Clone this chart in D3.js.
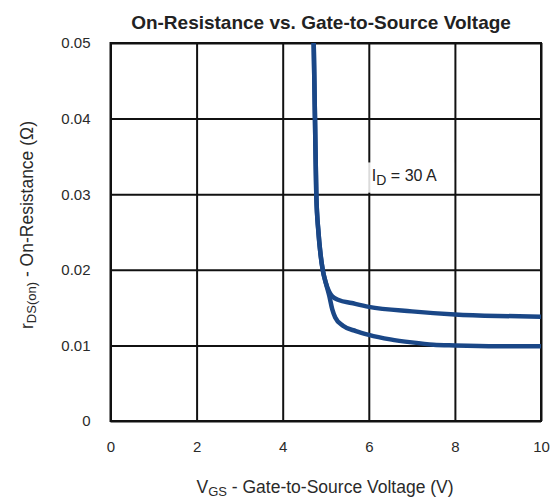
<!DOCTYPE html>
<html>
<head>
<meta charset="utf-8">
<script src="https://cdn.jsdelivr.net/npm/d3@7"></script>
<style>
	body { margin: 0; background: #fff; }
	svg text { font-family: "Liberation Sans", Arial, sans-serif; }
	.grid line { stroke: #111; stroke-width: 2; }
	.grid path { display: none; }
	.tick-labels path, .tick-labels line { display: none; }
	.tick-labels text { font-size: 15px; fill: #2a2a2a; }
</style>
</head>
<body>
<div id="chart"></div>
<script>
// Vgs ticks and rDS(on) ticks
let xTicks		= [0, 2, 4, 6, 8, 10];
let yTicks		= [0, 0.01, 0.02, 0.03, 0.04, 0.05];

// upper curve (Vgs, rDS(on))
let upperVgs	= [4.72, 4.75, 4.78, 4.83, 4.88, 4.93, 5.0, 5.08, 5.15, 5.3, 5.6, 6.0, 7.0, 8.0, 9.0, 10.0];
let upperR		= [0.050, 0.040, 0.030, 0.025, 0.022, 0.020, 0.0183, 0.0171, 0.0165, 0.0160, 0.0156, 0.0151, 0.0145, 0.0141, 0.0139, 0.0138];

// lower curve (Vgs, rDS(on))
let lowerVgs	= [4.72, 4.75, 4.78, 4.83, 4.88, 4.93, 5.0, 5.08, 5.15, 5.22, 5.4, 5.7, 6.0, 6.5, 7.0, 7.5, 8.0, 9.0, 10.0];
let lowerR		= [0.050, 0.040, 0.030, 0.025, 0.022, 0.020, 0.0183, 0.0166, 0.0148, 0.0137, 0.0126, 0.0119, 0.0114, 0.0108, 0.0104, 0.0101, 0.0100, 0.0099, 0.0099];

let canvasWidth		= 559;
let canvasHeight	= 499;
let margin			= { top: 43, right: 18, bottom: 78, left: 110.5 };
let width			= canvasWidth - margin.left - margin.right;
let height			= canvasHeight - margin.top - margin.bottom;

let x = d3.scaleLinear().domain([0, 10]).range([0, width]);
let y = d3.scaleLinear().domain([0, 0.05]).range([height, 0]);

let root = d3.select('#chart').append('svg')
	.attr('width', canvasWidth)
	.attr('height', canvasHeight);

root.append('text')
	.attr('x', 321)
	.attr('y', 29)
	.attr('text-anchor', 'middle')
	.style('font-size', '19px')
	.style('font-weight', 'bold')
	.style('fill', '#222')
	.text('On-Resistance vs. Gate-to-Source Voltage');

let svg = root.append('g')
	.attr('transform', 'translate(' + margin.left + ',' + margin.top + ')');

// grid
svg.append('g')
	.attr('class', 'grid')
	.attr('transform', 'translate(0,' + height + ')')
	.call(d3.axisBottom(x).tickValues(xTicks).tickSize(-height).tickFormat(''));

svg.append('g')
	.attr('class', 'grid')
	.call(d3.axisLeft(y).tickValues(yTicks).tickSize(-width).tickFormat(''));

svg.append('rect')
	.attr('width', width)
	.attr('height', height)
	.attr('fill', 'none')
	.attr('stroke', '#111')
	.attr('stroke-width', 2);

// label box over grid
svg.append('rect')
	.attr('x', x(5.76))
	.attr('y', y(0.0342))
	.attr('width', x(7.98) - x(5.76))
	.attr('height', y(0.0302) - y(0.0342))
	.attr('fill', '#fff')
	.attr('fill-opacity', 0.85);

let label = svg.append('text')
	.attr('x', x(6.07))
	.attr('y', y(0.0317))
	.style('font-size', '16px')
	.style('fill', '#222');
label.append('tspan').text('I');
label.append('tspan').attr('dy', 4).style('font-size', '14px').text('D');
label.append('tspan').attr('dy', -4).text(' = 30 A');

// curves
let line = d3.line()
	.x((o) => x(o[0]))
	.y((o) => y(o[1]))
	.curve(d3.curveMonotoneX);

[[upperVgs, upperR], [lowerVgs, lowerR]].forEach((s) => {
	svg.append('path')
		.datum(d3.zip(s[0], s[1]))
		.attr('fill', 'none')
		.attr('stroke', '#1a4787')
		.attr('stroke-width', 4.5)
		.attr('stroke-linejoin', 'round')
		.attr('d', line);
});

// tick labels
svg.append('g')
	.attr('class', 'tick-labels')
	.attr('transform', 'translate(0,' + (height + 17) + ')')
	.call(d3.axisBottom(x).tickValues(xTicks).tickSize(0).tickFormat(d3.format('d')));

svg.append('g')
	.attr('class', 'tick-labels')
	.attr('transform', 'translate(-17,0)')
	.call(d3.axisLeft(y).tickValues(yTicks).tickSize(0).tickFormat((o) => (o === 0 ? '0' : d3.format('.2f')(o))));

// axis titles
let xTitle = root.append('text')
	.attr('x', 325)
	.attr('y', 493)
	.attr('text-anchor', 'middle')
	.style('font-size', '17.5px')
	.style('fill', '#2a2a2a');
xTitle.append('tspan').text('V');
xTitle.append('tspan').attr('dy', 3).style('font-size', '13px').text('GS');
xTitle.append('tspan').attr('dy', -3).text(' - Gate-to-Source Voltage (V)');

let yTitle = root.append('text')
	.attr('transform', 'translate(33,225) rotate(-90)')
	.attr('text-anchor', 'middle')
	.style('font-size', '17.5px')
	.style('fill', '#2a2a2a');
yTitle.append('tspan').text('r');
yTitle.append('tspan').attr('dy', 3).style('font-size', '13px').text('DS(on)');
yTitle.append('tspan').attr('dy', -3).text(' - On-Resistance (\u03A9)');
</script>
</body>
</html>
